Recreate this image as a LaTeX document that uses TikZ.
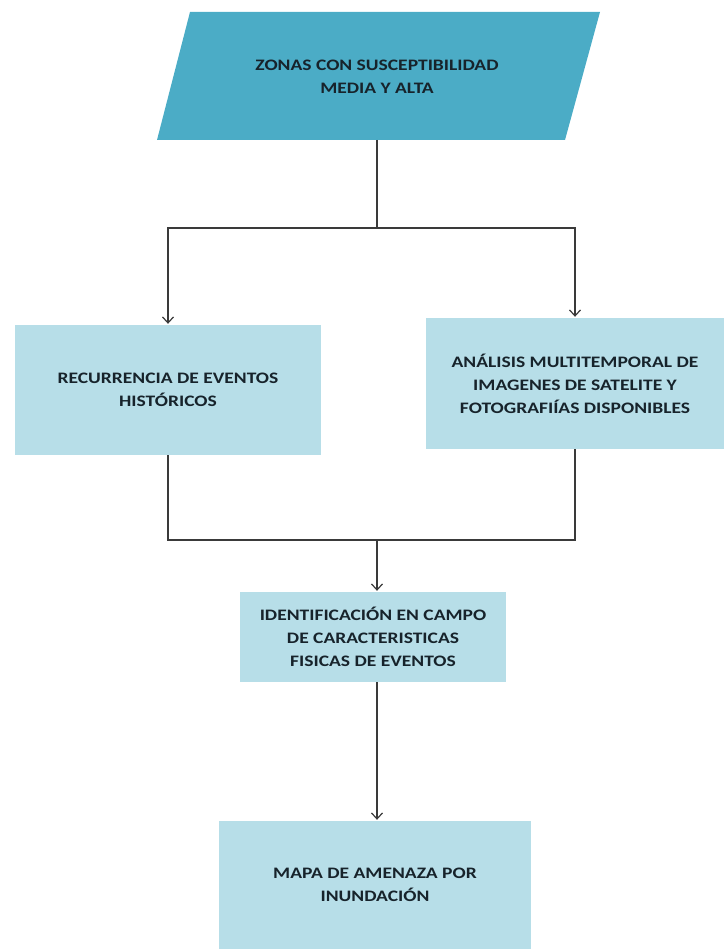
\documentclass[tikz,border=0pt]{standalone}
\usepackage{fontspec}
\setmainfont{Carlito}[FakeStretch=1.22]
\usetikzlibrary{arrows.meta}
\definecolor{paraFill}{HTML}{4BACC6}
\definecolor{boxFill}{HTML}{B7DEE8}
\definecolor{txtCol}{HTML}{17232B}
\definecolor{lineCol}{HTML}{3A3A3A}
\begin{document}
\begin{tikzpicture}[x=1pt,y=-1pt,
  lbl/.style={font=\bfseries\fontsize{16}{23}\selectfont, text=txtCol, align=center},
  box/.style={lbl, fill=boxFill, draw=none, inner sep=0pt},
  conn/.style={draw=lineCol, line width=1.3pt},
  arr/.style={conn, -{Straight Barb[length=6pt,width=11pt,line width=1.2pt]}, shorten >=1pt}
]
\useasboundingbox (0,0) rectangle (723,949);
% parallelogram
\fill[paraFill] (190,12) -- (600,12) -- (565,140) -- (157,140) -- cycle;
\node[lbl] (zonas) at (377,77) {ZONAS CON SUSCEPTIBILIDAD\\MEDIA Y ALTA};
\coordinate (zbot) at (377,140);
\coordinate (split) at (377,228);
\coordinate (merge) at (377,540);

\node[box, minimum width=306pt, minimum height=130pt] (rec) at (168,390) {RECURRENCIA DE EVENTOS\\HISTÓRICOS};
\node[box, minimum width=298pt, minimum height=131pt] (ana) at (575,383.5) {ANÁLISIS MULTITEMPORAL DE\\IMAGENES DE SATELITE Y\\FOTOGRAFIÍAS DISPONIBLES};
\node[box, minimum width=266pt, minimum height=90pt] (ide) at (373,637) {IDENTIFICACIÓN EN CAMPO\\DE CARACTERISTICAS\\FISICAS DE EVENTOS};
\node[box, minimum width=312pt, minimum height=128pt] (map) at (375,885) {MAPA DE AMENAZA POR\\INUNDACIÓN};

\draw[conn] (zbot) -- (split);
\draw[arr] (split) -| (rec.north);
\draw[arr] (split) -| (ana.north);
\draw[conn] (rec.south) -- (rec.south |- merge) -- (ana.south |- merge) -- (ana.south);
\draw[arr] (merge) -- (merge |- ide.north);
\draw[arr] (merge |- ide.south) -- (merge |- map.north);
\end{tikzpicture}
\end{document}
